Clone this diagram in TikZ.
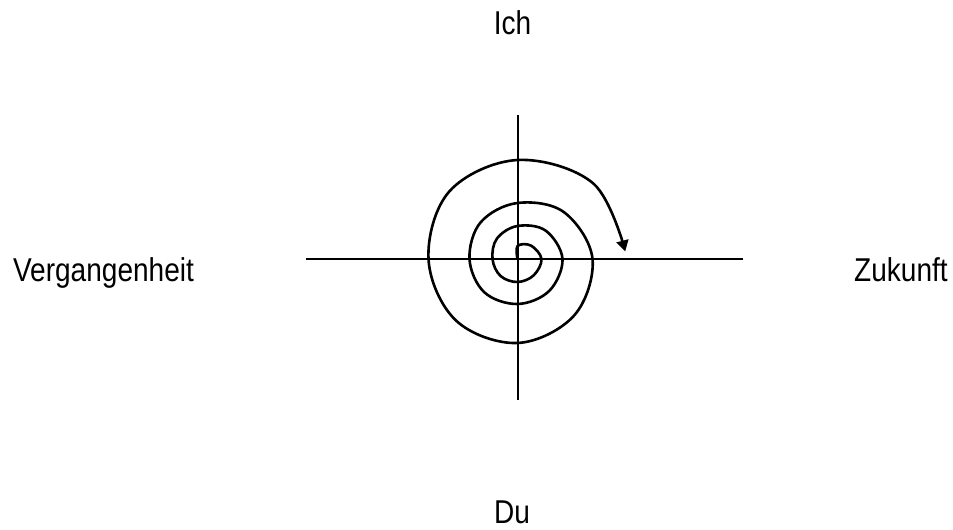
\documentclass[tikz,border=0pt]{standalone}
\usepackage{fontspec}
\setmainfont{Liberation Sans}[FakeStretch=0.85]
\usepackage{tikz}
\usetikzlibrary{arrows.meta,positioning}

\begin{document}
\begin{tikzpicture}[x=1pt, y=1pt,
        word/.style={anchor=base, inner sep=0pt, font=\fontsize{33}{40}\selectfont},
        axisline/.style={line width=2pt, black},
        spiral/.style={line width=2.6pt, black, line cap=round, line join=round, -{Triangle[length=11pt, width=12pt]}}
    ]
    \useasboundingbox (0,0) rectangle (953,530);
    % Beschriftung
    \node[word] (ich) at (512.5,495) {Ich};
    \node[word] (du) at (512,6) {Du};
    \node[word] (past) at (103.5,248) {Vergangenheit};
    \node[word] (future) at (901,248) {Zukunft};
    % Achsen
    \coordinate (c) at (517.5,271);
    \coordinate (l) at (306,271);
    \coordinate (r) at (743,271);
    \coordinate (t) at (517.5,415);
    \coordinate (b) at (517.5,130);
    \draw[axisline] (l) -- (r);
    \draw[axisline] (t) -- (b);
    % Spirale
    \begin{scope}[shift={(c)}]
    \draw[spiral] plot[smooth, tension=0.6] coordinates {
        (0,0) (90:13) (45:19) (0:24) (-45:23) (-90:23) (-135:24) (-180:25)
        (-225:29) (-270:33) (-315:40) (-360:45) (-405:45) (-450:45) (-495:47)
        (-540:48) (-585:52) (-630:56) (-675:66) (-720:75) (-765:80) (-810:84)
        (-855:87) (-900:89) (-945:96) (-990:99) (-1035:107) (-1076:108)};
    \end{scope}
\end{tikzpicture}
\end{document}
